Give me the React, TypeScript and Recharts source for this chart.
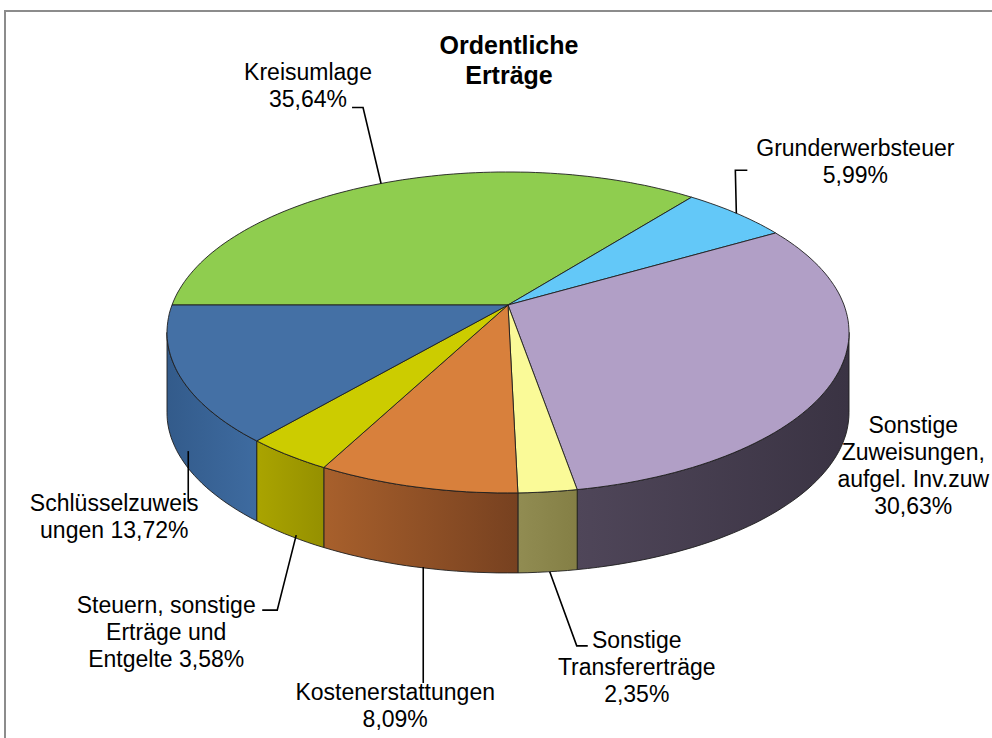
import React from 'react';
import { PieChart, Pie } from 'recharts';

const names = [
  'Kreisumlage',
  'Grunderwerbsteuer',
  'Sonstige Zuweisungen, aufgel. Inv.zuw',
  'Sonstige Transfererträge',
  'Kostenerstattungen',
  'Steuern, sonstige Erträge und Entgelte',
  'Schlüsselzuweisungen'
];

const shares = [35.64, 5.99, 30.63, 2.35, 8.09, 3.58, 13.72];

const labelLines = [
  ['Kreisumlage', '{v}'],
  ['Grunderwerbsteuer', '{v}'],
  ['Sonstige', 'Zuweisungen,', 'aufgel. Inv.zuw', '{v}'],
  ['Sonstige', 'Transfererträge', '{v}'],
  ['Kostenerstattungen', '{v}'],
  ['Steuern, sonstige', 'Erträge und', 'Entgelte {v}'],
  ['Schlüsselzuweis', 'ungen  {v}']
];

const data = names.map((name, i) => ({ name, value: shares[i] }));

// top face colours and the (left, right) shades of the side walls
const TOP = ['#8fcd4f', '#63c8f8', '#b19fc6', '#fafa98', '#d8803c', '#cccc00', '#4470a5'];
const SIDE = [
  ['#6fa33a', '#5c8a2e'],
  ['#4a9cc4', '#3d84a8'],
  ['#4f4659', '#3a3343'],
  ['#918c52', '#847f45'],
  ['#a8602c', '#774120'],
  ['#aaa400', '#959000'],
  ['#335b8b', '#3e6ba0']
];

// label placement relative to the slice's edge point
const LABEL_POS = [
  { start: [0, 0], text: [-73, -111], leader: [[-18, -76], [-29, -76]] },
  { start: [0, 0], text: [119, -65], leader: [[-1, -43], [11, -43]] },
  { start: [0, 0], text: [77, -31], leader: [] },
  { start: [2, 0], text: [89, 68], leader: [[29, 74], [40, 74]] },
  { start: [7, 0], text: [-21, 125], leader: [[7, 116]] },
  { start: [8, 0], text: [-122, 70], leader: [[-11, 75], [-26, 75]] },
  { start: [9, -4], text: [-65, 48], leader: [[9, 47]] }
];

const FONT = '"Liberation Sans", Arial, sans-serif';
const RY = 0.4637; // vertical squash of the tilted disc
const PERSP = 0.171; // perspective factor
const DEPTH = 80;
const EDGE = Math.asin(PERSP) * 180 / Math.PI;
const RAD = Math.PI / 180;

const proj = (cx: number, cy: number, r: number, deg: number, dy = 0) => {
  const t = deg * RAD;
  const w = 1 + PERSP * Math.sin(t);
  return [cx + (r * Math.cos(t)) / w, cy - (r * RY * Math.sin(t)) / w + dy];
};

const arcPts = (cx: number, cy: number, r: number, a: number, b: number, dy = 0) => {
  const n = Math.max(2, Math.ceil(Math.abs(a - b) / 1.5));
  const pts = [];
  for (let k = 0; k <= n; k++) pts.push(proj(cx, cy, r, a + ((b - a) * k) / n, dy));
  return pts;
};

const idxOf = (p: any) => {
  const nm = p.name ?? p.payload?.name;
  const i = names.indexOf(nm);
  return i >= 0 ? i : p.index ?? 0;
};

const Slice3D = (props: any) => {
  const { cx, cy, outerRadius, startAngle, endAngle } = props;
  const i = idxOf(props);
  const hi = Math.max(startAngle, endAngle);
  const lo = Math.min(startAngle, endAngle);
  // visible front wall: angles between -180+EDGE and -EDGE
  const s1 = Math.max(lo, -180 + EDGE);
  const s2 = Math.min(hi, -EDGE);
  let side = null;
  if (s2 > s1) {
    const top = arcPts(cx, cy, outerRadius, s1, s2);
    const bot = arcPts(cx, cy, outerRadius, s2, s1, DEPTH);
    const d = 'M' + [...top, ...bot].map((p) => p[0].toFixed(1) + ',' + p[1].toFixed(1)).join('L') + 'Z';
    side = (
      <>
        <defs>
          <linearGradient id={`side-${i}`} x1="0" y1="0" x2="1" y2="0">
            <stop offset="0%" stopColor={SIDE[i][0]} />
            <stop offset="100%" stopColor={SIDE[i][1]} />
          </linearGradient>
        </defs>
        <path d={d} fill={`url(#side-${i})`} stroke="#1e1e1e" strokeWidth={0.9} strokeLinejoin="round" />
      </>
    );
  }
  const pts = arcPts(cx, cy, outerRadius, startAngle, endAngle);
  const topD =
    `M${cx},${cy}L` + pts.map((p) => p[0].toFixed(1) + ',' + p[1].toFixed(1)).join('L') + 'Z';
  return (
    <g>
      {side}
      <path d={topD} fill={TOP[i]} stroke="#1e1e1e" strokeWidth={0.9} strokeLinejoin="round" />
    </g>
  );
};

const fmt = (v: number) => v.toFixed(2).replace('.', ',') + '%';

const renderLabel = (props: any) => {
  const { cx, cy, outerRadius, midAngle, value } = props;
  const i = idxOf(props);
  const front = Math.sin(midAngle * RAD) < -PERSP;
  const [ax, ay] = proj(cx, cy, outerRadius, midAngle, front ? DEPTH : 0);
  const pos = LABEL_POS[i];
  const lines = labelLines[i].map((l) => l.replace('{v}', fmt(value)));
  const leader = [pos.start, ...pos.leader].map(([dx, dy]) => [ax + dx, ay + dy]);
  return (
    <g key={`lbl-${i}`}>
      {pos.leader.length > 0 && (
        <polyline
          points={leader.map((p) => p.join(',')).join(' ')}
          fill="none"
          stroke="#000"
          strokeWidth={1.6}
        />
      )}
      {lines.map((l, k) => (
        <text
          key={k}
          x={ax + pos.text[0]}
          y={ay + pos.text[1] + k * 27}
          textAnchor="middle"
          dominantBaseline="central"
          fontFamily={FONT}
          fontSize={23}
          fill="#000"
        >
          {l}
        </text>
      ))}
    </g>
  );
};

export default function App() {
  return (
    <div style={{ position: 'absolute', left: 0, top: 0, width: 992, height: 738, overflow: 'hidden', background: '#fff' }}>
      <div
        style={{
          position: 'absolute',
          left: 4,
          top: 10,
          width: 1100,
          height: 900,
          border: '2px solid #8c8c8c'
        }}
      />
      <div
        style={{
          position: 'absolute',
          left: 409,
          top: 30,
          width: 200,
          textAlign: 'center',
          fontFamily: FONT,
          fontWeight: 'bold',
          fontSize: 25,
          lineHeight: '30px',
          color: '#000'
        }}
      >
        Ordentliche
        <br />
        Erträge
      </div>
      <div style={{ position: 'absolute', left: 0, top: 0 }}>
        <PieChart width={992} height={738} margin={{ top: 0, right: 0, bottom: 0, left: 0 }}>
          <Pie
            data={data}
            dataKey="value"
            nameKey="name"
            cx={508}
            cy={305}
            outerRadius={336}
            startAngle={180}
            endAngle={-180}
            stroke="none"
            isAnimationActive={false}
            shape={Slice3D}
            activeShape={Slice3D}
            inactiveShape={Slice3D}
            label={renderLabel}
            labelLine={false}
          />
        </PieChart>
      </div>
    </div>
  );
}
